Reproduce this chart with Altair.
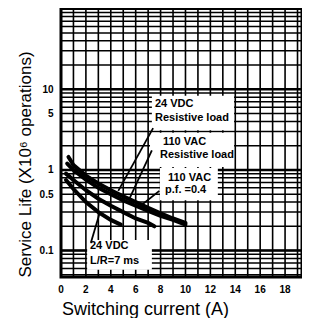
import altair as alt
import pandas as pd

# ---- data ----
series_names = ["24 VDC Resistive load", "110 VAC Resistive load", "110 VAC p.f. =0.4", "24 VDC L/R=7 ms"]
x_24vdc_res = [0.6, 1, 2, 3, 4, 5, 6, 7, 8, 9, 10]
y_24vdc_res = [1.45, 1.15, 0.85, 0.68, 0.56, 0.47, 0.40, 0.34, 0.29, 0.25, 0.22]
x_110vac_res = [0.5, 1, 2, 3, 4, 5, 6, 7, 8, 9, 10]
y_110vac_res = [1.2, 1.0, 0.76, 0.60, 0.50, 0.42, 0.36, 0.31, 0.27, 0.24, 0.21]
x_110vac_pf = [0.4, 1, 2, 3, 4, 5, 6, 7, 7.5]
y_110vac_pf = [0.9, 0.75, 0.56, 0.44, 0.36, 0.30, 0.25, 0.22, 0.20]
x_24vdc_lr = [0.4, 1, 2, 3, 4, 4.8]
y_24vdc_lr = [0.75, 0.58, 0.40, 0.30, 0.24, 0.21]

x_grid = [0, 1, 2, 3, 4, 5, 6, 7, 8, 9, 10, 11, 12, 13, 14, 15, 16, 17, 18, 19]
x_tick_values = [0, 2, 4, 6, 8, 10, 12, 14, 16, 18, 20]
x_tick_labels = ["0", "2", "4", "6", "8", "10", "12", "14", "16", "18", "20"]
y_grid = [0.05, 0.06, 0.07, 0.08, 0.09,
          0.1, 0.2, 0.3, 0.4, 0.5, 0.6, 0.7, 0.8, 0.9,
          1, 2, 3, 4, 5, 6, 7, 8, 9,
          10, 20, 30, 40, 50, 60, 70, 80, 90, 100]
y_major = [0.1, 1, 10, 100]
y_tick_values = [0.1, 0.5, 1, 5, 10]
y_tick_labels = ["0.1", "0.5", "1", "5", "10"]

# annotation boxes (data units)
box_x = [7.3, 7.15, 7.95, 2.1]
box_x2 = [13.9, 13.9, 12.6, 7.3]
box_y = [8.3, 2.9, 1.06, 0.135]
box_y2 = [3.1, 1.09, 0.42, 0.058]

# annotation texts
text_lines = ["24 VDC", "Resistive load", "110 VAC", "Resistive load", "110 VAC", "p.f. =0.4", "24 VDC", "L/R=7 ms"]
text_x = [7.55, 7.55, 8.19, 7.95, 8.59, 8.35, 2.33, 2.33]
text_y = [6.58, 4.42, 2.22, 1.53, 0.796, 0.565, 0.114, 0.074]

# leader lines
lead_x = [7.4, 7.3, 7.9, 2.4]
lead_y = [3.3, 1.75, 0.55, 0.125]
lead_x2 = [4.6, 5.5, 6.4, 3.1]
lead_y2 = [0.55, 0.44, 0.36, 0.29]

# ---- tables ----
rows = []
for name, xs, ys in zip(series_names,
                        [x_24vdc_res, x_110vac_res, x_110vac_pf, x_24vdc_lr],
                        [y_24vdc_res, y_110vac_res, y_110vac_pf, y_24vdc_lr]):
    for xv, yv in zip(xs, ys):
        rows.append({"series": name, "x": xv, "y": yv})
curves = pd.DataFrame(rows)
boxes = pd.DataFrame({"x": box_x, "x2": box_x2, "y": box_y, "y2": box_y2})
texts = pd.DataFrame({"t": text_lines, "x": text_x, "y": text_y})
leads = pd.DataFrame({"x": lead_x, "y": lead_y, "x2": lead_x2, "y2": lead_y2})
vgrid = pd.DataFrame({"x": x_grid})
hgrid = pd.DataFrame({"y": y_grid})
hmajor = pd.DataFrame({"y": y_major})
xticks = pd.DataFrame({"x": x_tick_values, "t": x_tick_labels})

label_expr_y = " : ".join(
    f"datum.value == {v} ? '{l}'" for v, l in zip(y_tick_values, y_tick_labels)) + " : ''"

PLOT_W, PLOT_H = 241, 269
xscale = alt.Scale(domain=[0, 19.36], nice=False)
yscale = alt.Scale(type="log", domain=[0.047, 102], nice=False)

xaxis = alt.Axis(values=x_tick_values, labels=False, title="Switching current (A)",
                 titleFontSize=18, titleFont="Liberation Sans", titleFontWeight="normal",
                 titleX=84, titleY=32, titleAlign="center", titleBaseline="middle",
                 grid=False, domain=False, ticks=False)
yaxis = alt.Axis(values=y_tick_values, labelExpr=label_expr_y, title="Service Life (X10⁶ operations)",
                 titleFontSize=17, titleFont="Liberation Sans", titleFontWeight="normal",
                 titleX=-36, titleY=156, titleAngle=270, titleAlign="center", titleBaseline="middle",
                 labelFontSize=10, labelFont="Liberation Sans", labelFontWeight="bold",
                 labelPadding=8, labelColor="black", labelOverlap=False,
                 grid=False, domain=False, ticks=False)

vgrid_layer = alt.Chart(vgrid).mark_rule(color="black", strokeWidth=1.6, clip=True).encode(
    x=alt.X("x:Q", scale=xscale, axis=xaxis),
)
hgrid_layer = alt.Chart(hgrid).mark_rule(color="black", strokeWidth=1.5, clip=True).encode(
    y=alt.Y("y:Q", scale=yscale, axis=yaxis),
)
hmajor_layer = alt.Chart(hmajor).mark_rule(color="black", strokeWidth=2.6, clip=True).encode(
    y=alt.Y("y:Q", scale=yscale),
)

box_layer = alt.Chart(boxes).mark_rect(color="white", opacity=1).encode(
    x=alt.X("x:Q", scale=xscale), x2="x2",
    y=alt.Y("y:Q", scale=yscale), y2="y2",
)

curve_layer = alt.Chart(curves).mark_line(color="black", strokeWidth=4, strokeCap="round").encode(
    x=alt.X("x:Q", scale=xscale),
    y=alt.Y("y:Q", scale=yscale),
    detail="series:N",
)

lead_layer = alt.Chart(leads).mark_rule(color="black", strokeWidth=1.8).encode(
    x=alt.X("x:Q", scale=xscale), x2="x2",
    y=alt.Y("y:Q", scale=yscale), y2="y2",
)

text_layer = alt.Chart(texts).mark_text(align="left", baseline="middle", font="Liberation Sans",
                                        fontSize=11, fontWeight="bold", color="black").encode(
    x=alt.X("x:Q", scale=xscale),
    y=alt.Y("y:Q", scale=yscale),
    text="t:N",
)

xtick_layer = alt.Chart(xticks).mark_text(align="center", baseline="middle", font="Liberation Sans",
                                          fontSize=10, fontWeight="bold", color="black",
                                          clip=False).encode(
    x=alt.X("x:Q", scale=xscale),
    y=alt.value(PLOT_H + 13),
    text="t:N",
)

chart = alt.layer(vgrid_layer, hgrid_layer, hmajor_layer, box_layer, curve_layer,
                  lead_layer, text_layer, xtick_layer).properties(
    width=PLOT_W, height=PLOT_H,
    autosize=alt.AutoSizeParams(type="none"),
    padding={"left": 53, "top": 0, "right": 0, "bottom": 41},
    background="white",
).configure_view(
    stroke="black", strokeWidth=3
)

chart.save("out.html", embed_options={"renderer": "svg", "actions": False})
